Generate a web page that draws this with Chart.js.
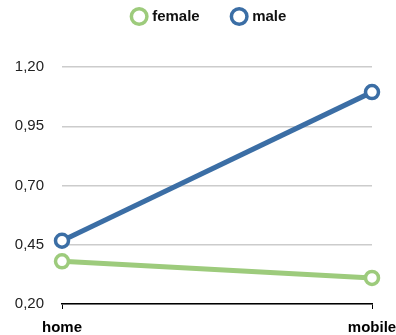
<!DOCTYPE html>
<html>
<head>
<meta charset="utf-8">
<script src="https://cdn.jsdelivr.net/npm/chart.js@4"></script>
<style>
html,body{margin:0;padding:0;background:#fff;}
#wrap{width:396px;height:335px;position:relative;}
</style>
</head>
<body>
<div id="wrap"><canvas id="c"></canvas></div>
<script>
const categories = ["home", "mobile"];
const femaleValues = [0.38, 0.31];
const maleValues = [0.467, 1.094];
const yTicks = [0.20, 0.45, 0.70, 0.95, 1.20];

const FONT = "'Liberation Sans', Arial, Helvetica, sans-serif";
const maleColor = "#3b6ea5";
const femaleColor = "#9dcb7c";

const legendSpacing = {
  id: 'legendSpacing',
  beforeInit(chart) {
    const lg = chart.legend;
    if (!lg) return;
    const origFit = lg.fit;
    lg.fit = function () {
      origFit.call(this);
      this.height += 33;
    };
    const origDraw = lg.draw;
    lg.draw = function () {
      const ctx = this.ctx;
      ctx.save();
      ctx.translate(24, 0);
      origDraw.call(this);
      ctx.restore();
    };
  }
};

new Chart(document.getElementById('c'), {
  type: 'line',
  data: {
    labels: categories,
    datasets: [
      {
        label: 'female',
        data: femaleValues,
        borderColor: femaleColor,
        backgroundColor: '#fff',
        borderWidth: 5,
        pointRadius: 6.5,
        pointHoverRadius: 6.5,
        pointBorderWidth: 3.5,
        pointBackgroundColor: '#fff',
        pointBorderColor: femaleColor,
        tension: 0
      },
      {
        label: 'male',
        data: maleValues,
        borderColor: maleColor,
        backgroundColor: '#fff',
        borderWidth: 5,
        pointRadius: 6.5,
        pointHoverRadius: 6.5,
        pointBorderWidth: 3.5,
        pointBackgroundColor: '#fff',
        pointBorderColor: maleColor,
        tension: 0
      }
    ]
  },
  plugins: [legendSpacing],
  options: {
    responsive: true,
    maintainAspectRatio: false,
    animation: false,
    clip: false,
    layout: { padding: { left: 0, right: 24, top: -25, bottom: -12 } },
    plugins: {
      tooltip: { enabled: false },
      legend: {
        position: 'top',
        labels: {
          usePointStyle: true,
          pointStyle: 'circle',
          boxWidth: 11,
          boxHeight: 11,
          padding: 34,
          color: '#111',
          font: { family: FONT, size: 15, weight: 'bold' }
        }
      }
    },
    scales: {
      x: {
        offset: false,
        afterFit: (axis) => { axis.paddingLeft = 0; axis.paddingRight = 0; },
        grid: {
          display: true,
          drawOnChartArea: false,
          drawTicks: true,
          tickLength: 5,
          color: '#000',
          lineWidth: 1
        },
        border: { display: true, color: '#000', width: 1.5 },
        ticks: {
          color: '#000',
          padding: 10,
          maxRotation: 0,
          font: { family: FONT, size: 15, weight: 'bold' }
        }
      },
      y: {
        min: 0.20,
        max: 1.20,
        afterBuildTicks: (axis) => { axis.ticks = yTicks.map(v => ({ value: v })); },
        afterFit: (axis) => { axis.width = 62; },
        grid: {
          color: '#cccccc',
          lineWidth: 1.5,
          drawTicks: false
        },
        border: { display: false },
        ticks: {
          color: '#222',
          padding: 18,
          font: { family: FONT, size: 15 },
          callback: (v) => Number(v).toFixed(2).replace('.', ',')
        }
      }
    }
  }
});
</script>
</body>
</html>
